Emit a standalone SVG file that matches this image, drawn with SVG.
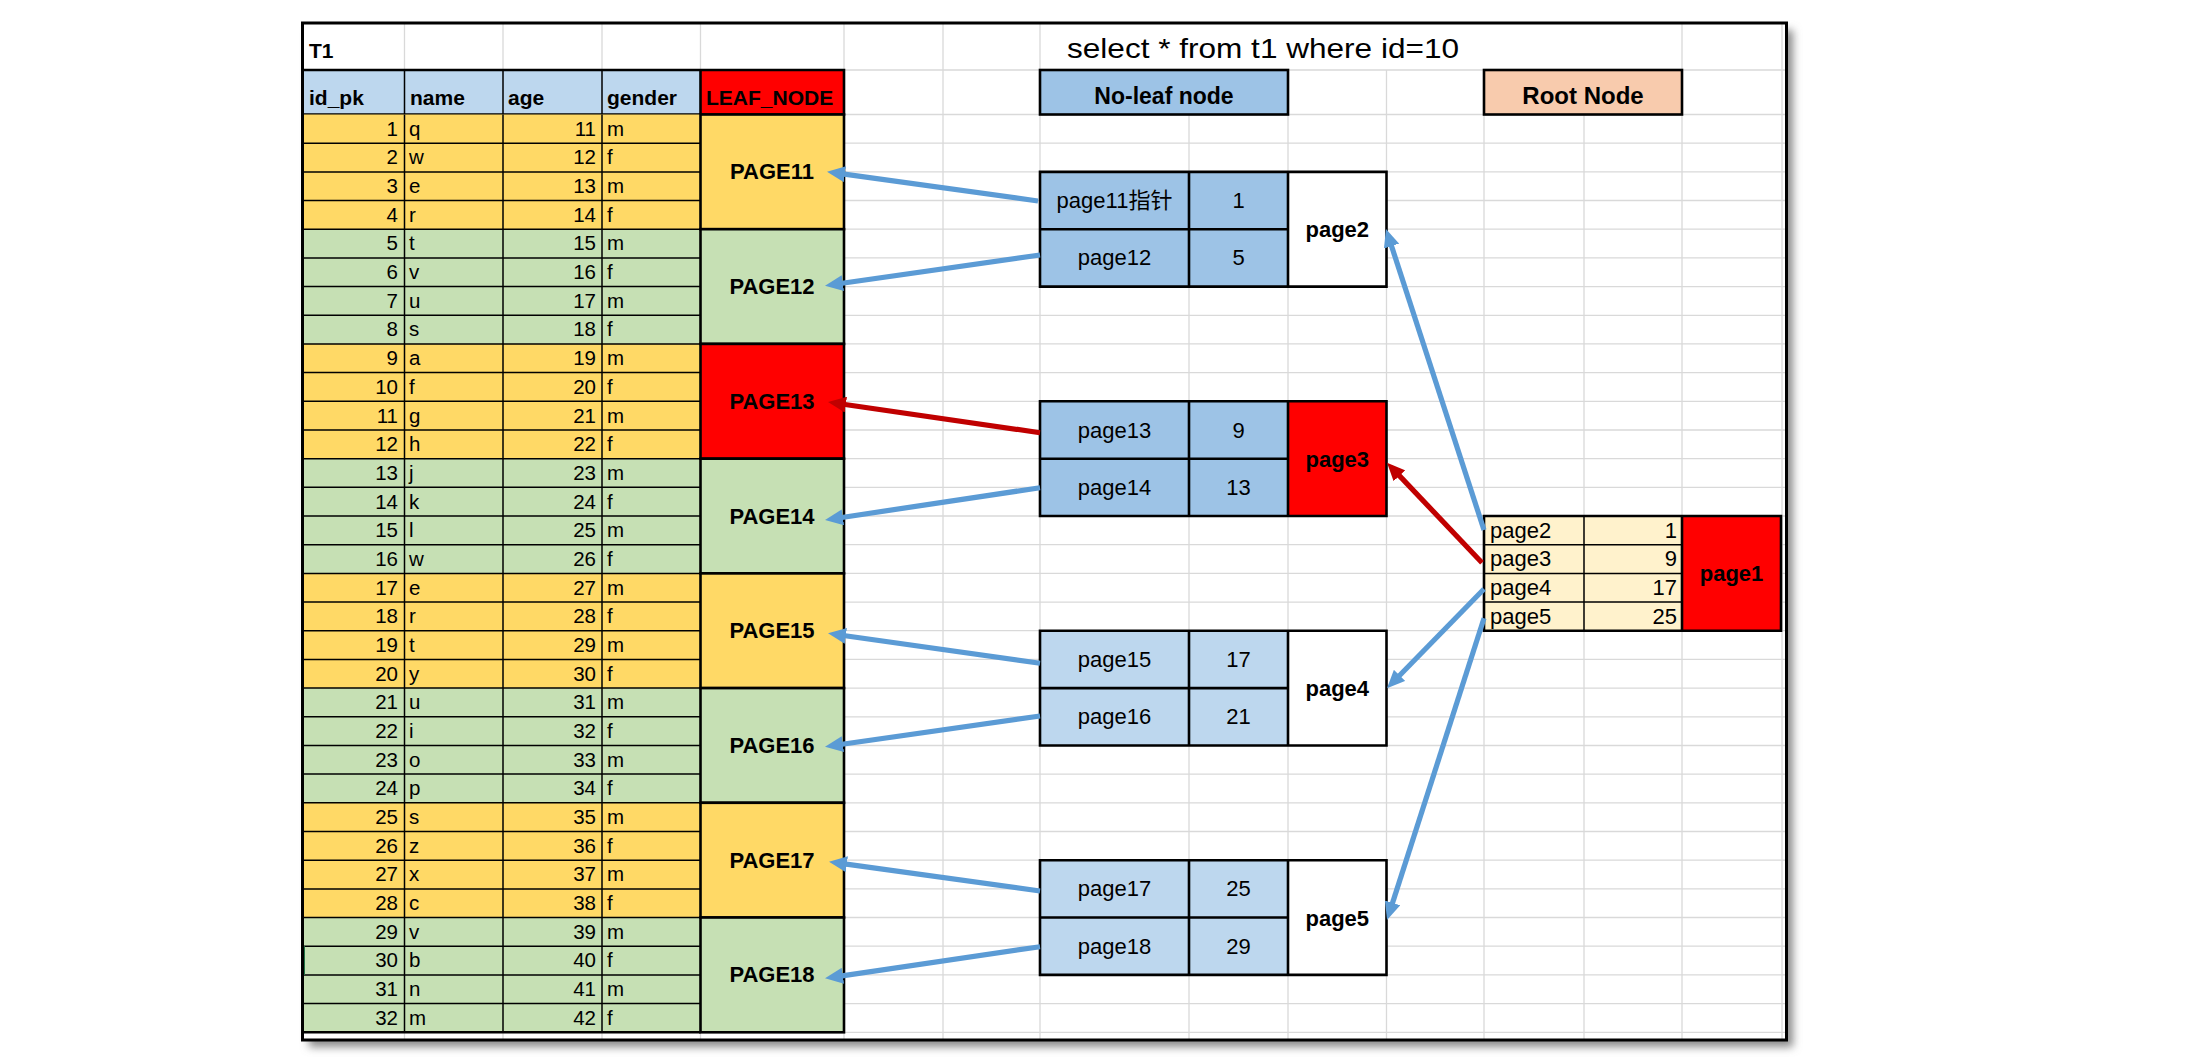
<svg xmlns="http://www.w3.org/2000/svg" width="2210" height="1063" viewBox="0 0 2210 1063">
<style>
.t{font-family:"Liberation Sans","Noto Sans CJK SC",sans-serif;fill:#000}
.d{font-size:20.5px}
.n{font-size:22px}
.h{font-size:21px;font-weight:bold}
.b{font-weight:bold}
.e{text-anchor:end}
.m{text-anchor:middle}
.grid{stroke:#D9D9D9;stroke-width:1.3;fill:none}
.thin{stroke:#000;stroke-width:1.5;fill:none}
.thick{stroke:#000;stroke-width:2.6;fill:none}
.blue{stroke:#5B9BD5;stroke-width:5.2;fill:none;marker-end:url(#ab)}
.red{stroke:#C00000;stroke-width:5.2;fill:none;marker-end:url(#ar)}
.yel{fill:#FFD966}
.grn{fill:#C6E0B4}
.rd{fill:#FF0000}
.lb{fill:#BDD7EE}
</style>
<defs>
<marker id="ab" viewBox="0 0 18 16" refX="6" refY="8" markerWidth="18" markerHeight="16" markerUnits="userSpaceOnUse" orient="auto"><path d="M0,0 L18,8 L0,16 z" fill="#5B9BD5"/></marker>
<marker id="ar" viewBox="0 0 18 16" refX="6" refY="8" markerWidth="18" markerHeight="16" markerUnits="userSpaceOnUse" orient="auto"><path d="M0,0 L18,8 L0,16 z" fill="#C00000"/></marker>
<filter id="sh" x="-5%" y="-5%" width="110%" height="110%"><feGaussianBlur stdDeviation="4"/></filter>
</defs>
<rect x="0" y="0" width="2210" height="1063" fill="#fff"/>
<rect x="309" y="30" width="1484" height="1017" fill="#8a8a8a" filter="url(#sh)"/>
<rect x="302.5" y="23" width="1484" height="1017" fill="#fff"/>
<g id="grid" class="grid">
<path d="M303,70H1786M303,114.5H1786M303,143.2H1786M303,171.9H1786M303,200.5H1786M303,229.2H1786M303,257.9H1786M303,286.6H1786M303,315.3H1786M303,343.9H1786M303,372.6H1786M303,401.3H1786M303,430H1786M303,458.7H1786M303,487.3H1786M303,516H1786M303,544.7H1786M303,573.4H1786M303,602.1H1786M303,630.7H1786M303,659.4H1786M303,688.1H1786M303,716.8H1786M303,745.5H1786M303,774.1H1786M303,802.8H1786M303,831.5H1786M303,860.2H1786M303,888.9H1786M303,917.5H1786M303,946.2H1786M303,974.9H1786M303,1003.6H1786M303,1032.3H1786"/>
<path d="M404.5,23V1040M503,23V1040M602,23V1040M700.5,23V1040M844,23V1040M943,23V1040M1040,23V1040M1189,70V1040M1288,70V1040M1386.5,70V1040M1484,70V1040M1584,70V1040M1682,23V1040M1782,23V1040"/>
</g>
<g id="title">
<text class="t b" x="309" y="58" font-size="21">T1</text>
<text class="t m" x="1263" y="58" font-size="28" textLength="392" lengthAdjust="spacingAndGlyphs">select * from t1 where id=10</text>
</g>
<g id="header">
<rect x="303" y="70" width="397.5" height="44.5" class="lb"/>
<rect x="700.5" y="70" width="143.5" height="44.5" class="rd"/>
<path class="thin" d="M404.5,70V114.5M503,70V114.5M602,70V114.5"/>
<path class="thick" d="M303,70H844V114.5H303M700.5,70V114.5"/>
<text class="t h" x="309" y="104.5">id_pk</text>
<text class="t h" x="410" y="104.5">name</text>
<text class="t h" x="508" y="104.5">age</text>
<text class="t h" x="607" y="104.5">gender</text>
<text class="t h" x="706" y="104.5" font-size="20">LEAF_NODE</text>
</g>
<g id="table-t1">
<rect x="303" y="114.5" width="397.5" height="114.7" class="yel"/>
<rect x="303" y="229.2" width="397.5" height="114.7" class="grn"/>
<rect x="303" y="343.9" width="397.5" height="114.8" class="yel"/>
<rect x="303" y="458.7" width="397.5" height="114.7" class="grn"/>
<rect x="303" y="573.4" width="397.5" height="114.7" class="yel"/>
<rect x="303" y="688.1" width="397.5" height="114.7" class="grn"/>
<rect x="303" y="802.8" width="397.5" height="114.7" class="yel"/>
<rect x="303" y="917.5" width="397.5" height="114.8" class="grn"/>
<path class="thin" d="M303,143.2H700.5M303,171.9H700.5M303,200.5H700.5M303,229.2H700.5M303,257.9H700.5M303,286.6H700.5M303,315.3H700.5M303,343.9H700.5M303,372.6H700.5M303,401.3H700.5M303,430H700.5M303,458.7H700.5M303,487.3H700.5M303,516H700.5M303,544.7H700.5M303,573.4H700.5M303,602.1H700.5M303,630.7H700.5M303,659.4H700.5M303,688.1H700.5M303,716.8H700.5M303,745.5H700.5M303,774.1H700.5M303,802.8H700.5M303,831.5H700.5M303,860.2H700.5M303,888.9H700.5M303,917.5H700.5M303,946.2H700.5M303,974.9H700.5M303,1003.6H700.5M404.5,114.5V1032.3M503,114.5V1032.3M602,114.5V1032.3"/>
<path class="thick" d="M303,1032.3H700.5"/>
<rect x="302" y="946.2" width="3" height="28.7" fill="#217346"/>
<g class="t d">
<text class="e" x="398" y="135.7">1</text><text x="409" y="135.7">q</text><text class="e" x="596" y="135.7">11</text><text x="607" y="135.7">m</text>
<text class="e" x="398" y="164.4">2</text><text x="409" y="164.4">w</text><text class="e" x="596" y="164.4">12</text><text x="607" y="164.4">f</text>
<text class="e" x="398" y="193">3</text><text x="409" y="193">e</text><text class="e" x="596" y="193">13</text><text x="607" y="193">m</text>
<text class="e" x="398" y="221.7">4</text><text x="409" y="221.7">r</text><text class="e" x="596" y="221.7">14</text><text x="607" y="221.7">f</text>
<text class="e" x="398" y="250.4">5</text><text x="409" y="250.4">t</text><text class="e" x="596" y="250.4">15</text><text x="607" y="250.4">m</text>
<text class="e" x="398" y="279.1">6</text><text x="409" y="279.1">v</text><text class="e" x="596" y="279.1">16</text><text x="607" y="279.1">f</text>
<text class="e" x="398" y="307.8">7</text><text x="409" y="307.8">u</text><text class="e" x="596" y="307.8">17</text><text x="607" y="307.8">m</text>
<text class="e" x="398" y="336.4">8</text><text x="409" y="336.4">s</text><text class="e" x="596" y="336.4">18</text><text x="607" y="336.4">f</text>
<text class="e" x="398" y="365.1">9</text><text x="409" y="365.1">a</text><text class="e" x="596" y="365.1">19</text><text x="607" y="365.1">m</text>
<text class="e" x="398" y="393.8">10</text><text x="409" y="393.8">f</text><text class="e" x="596" y="393.8">20</text><text x="607" y="393.8">f</text>
<text class="e" x="398" y="422.5">11</text><text x="409" y="422.5">g</text><text class="e" x="596" y="422.5">21</text><text x="607" y="422.5">m</text>
<text class="e" x="398" y="451.2">12</text><text x="409" y="451.2">h</text><text class="e" x="596" y="451.2">22</text><text x="607" y="451.2">f</text>
<text class="e" x="398" y="479.8">13</text><text x="409" y="479.8">j</text><text class="e" x="596" y="479.8">23</text><text x="607" y="479.8">m</text>
<text class="e" x="398" y="508.5">14</text><text x="409" y="508.5">k</text><text class="e" x="596" y="508.5">24</text><text x="607" y="508.5">f</text>
<text class="e" x="398" y="537.2">15</text><text x="409" y="537.2">l</text><text class="e" x="596" y="537.2">25</text><text x="607" y="537.2">m</text>
<text class="e" x="398" y="565.9">16</text><text x="409" y="565.9">w</text><text class="e" x="596" y="565.9">26</text><text x="607" y="565.9">f</text>
<text class="e" x="398" y="594.6">17</text><text x="409" y="594.6">e</text><text class="e" x="596" y="594.6">27</text><text x="607" y="594.6">m</text>
<text class="e" x="398" y="623.2">18</text><text x="409" y="623.2">r</text><text class="e" x="596" y="623.2">28</text><text x="607" y="623.2">f</text>
<text class="e" x="398" y="651.9">19</text><text x="409" y="651.9">t</text><text class="e" x="596" y="651.9">29</text><text x="607" y="651.9">m</text>
<text class="e" x="398" y="680.6">20</text><text x="409" y="680.6">y</text><text class="e" x="596" y="680.6">30</text><text x="607" y="680.6">f</text>
<text class="e" x="398" y="709.3">21</text><text x="409" y="709.3">u</text><text class="e" x="596" y="709.3">31</text><text x="607" y="709.3">m</text>
<text class="e" x="398" y="738">22</text><text x="409" y="738">i</text><text class="e" x="596" y="738">32</text><text x="607" y="738">f</text>
<text class="e" x="398" y="766.6">23</text><text x="409" y="766.6">o</text><text class="e" x="596" y="766.6">33</text><text x="607" y="766.6">m</text>
<text class="e" x="398" y="795.3">24</text><text x="409" y="795.3">p</text><text class="e" x="596" y="795.3">34</text><text x="607" y="795.3">f</text>
<text class="e" x="398" y="824">25</text><text x="409" y="824">s</text><text class="e" x="596" y="824">35</text><text x="607" y="824">m</text>
<text class="e" x="398" y="852.7">26</text><text x="409" y="852.7">z</text><text class="e" x="596" y="852.7">36</text><text x="607" y="852.7">f</text>
<text class="e" x="398" y="881.4">27</text><text x="409" y="881.4">x</text><text class="e" x="596" y="881.4">37</text><text x="607" y="881.4">m</text>
<text class="e" x="398" y="910">28</text><text x="409" y="910">c</text><text class="e" x="596" y="910">38</text><text x="607" y="910">f</text>
<text class="e" x="398" y="938.7">29</text><text x="409" y="938.7">v</text><text class="e" x="596" y="938.7">39</text><text x="607" y="938.7">m</text>
<text class="e" x="398" y="967.4">30</text><text x="409" y="967.4">b</text><text class="e" x="596" y="967.4">40</text><text x="607" y="967.4">f</text>
<text class="e" x="398" y="996.1">31</text><text x="409" y="996.1">n</text><text class="e" x="596" y="996.1">41</text><text x="607" y="996.1">m</text>
<text class="e" x="398" y="1024.8">32</text><text x="409" y="1024.8">m</text><text class="e" x="596" y="1024.8">42</text><text x="607" y="1024.8">f</text>
</g>
</g>
<g id="leaf-page11"><rect x="700.5" y="114.5" width="143.5" height="114.7" class="thick" style="fill:#FFD966"/><text class="t b m" x="772" y="179.4" font-size="22">PAGE11</text></g>
<g id="leaf-page12"><rect x="700.5" y="229.2" width="143.5" height="114.7" class="thick" style="fill:#C6E0B4"/><text class="t b m" x="772" y="294.1" font-size="22">PAGE12</text></g>
<g id="leaf-page13"><rect x="700.5" y="343.9" width="143.5" height="114.8" class="thick" style="fill:#FF0000"/><text class="t b m" x="772" y="408.8" font-size="22">PAGE13</text></g>
<g id="leaf-page14"><rect x="700.5" y="458.7" width="143.5" height="114.7" class="thick" style="fill:#C6E0B4"/><text class="t b m" x="772" y="523.5" font-size="22">PAGE14</text></g>
<g id="leaf-page15"><rect x="700.5" y="573.4" width="143.5" height="114.7" class="thick" style="fill:#FFD966"/><text class="t b m" x="772" y="638.2" font-size="22">PAGE15</text></g>
<g id="leaf-page16"><rect x="700.5" y="688.1" width="143.5" height="114.7" class="thick" style="fill:#C6E0B4"/><text class="t b m" x="772" y="753" font-size="22">PAGE16</text></g>
<g id="leaf-page17"><rect x="700.5" y="802.8" width="143.5" height="114.7" class="thick" style="fill:#FFD966"/><text class="t b m" x="772" y="867.7" font-size="22">PAGE17</text></g>
<g id="leaf-page18"><rect x="700.5" y="917.5" width="143.5" height="114.8" class="thick" style="fill:#C6E0B4"/><text class="t b m" x="772" y="982.4" font-size="22">PAGE18</text></g>
<g id="label-noleaf"><rect x="1040" y="70" width="248" height="44.5" class="thick" style="fill:#9DC3E6"/><text class="t b m" x="1164" y="104" font-size="23">No-leaf node</text></g>
<g id="label-root"><rect x="1484" y="70" width="198" height="44.5" class="thick" style="fill:#F8CBAD"/><text class="t b m" x="1583" y="104" font-size="24">Root Node</text></g>
<g id="node-page2">
<rect x="1040" y="171.9" width="248" height="114.7" style="fill:#9DC3E6"/>
<rect x="1288" y="171.9" width="98.5" height="114.7" fill="#fff"/>
<path class="thick" d="M1040,171.9H1386.5V286.6H1040ZM1040,229.2H1288M1189,171.9V286.6M1288,171.9V286.6"/>
<text class="t n m" x="1114.5" y="208">page11指针</text><text class="t n m" x="1238.5" y="208">1</text>
<text class="t n m" x="1114.5" y="265.4">page12</text><text class="t n m" x="1238.5" y="265.4">5</text>
<text class="t n b m" x="1337.3" y="237.2">page2</text>
</g>
<g id="node-page3">
<rect x="1040" y="401.3" width="248" height="114.7" style="fill:#9DC3E6"/>
<rect x="1288" y="401.3" width="98.5" height="114.7" fill="#FF0000"/>
<path class="thick" d="M1040,401.3H1386.5V516H1040ZM1040,458.7H1288M1189,401.3V516M1288,401.3V516"/>
<text class="t n m" x="1114.5" y="437.5">page13</text><text class="t n m" x="1238.5" y="437.5">9</text>
<text class="t n m" x="1114.5" y="494.8">page14</text><text class="t n m" x="1238.5" y="494.8">13</text>
<text class="t n b m" x="1337.3" y="466.7">page3</text>
</g>
<g id="node-page4">
<rect x="1040" y="630.7" width="248" height="114.8" style="fill:#BDD7EE"/>
<rect x="1288" y="630.7" width="98.5" height="114.8" fill="#fff"/>
<path class="thick" d="M1040,630.7H1386.5V745.5H1040ZM1040,688.1H1288M1189,630.7V745.5M1288,630.7V745.5"/>
<text class="t n m" x="1114.5" y="666.9">page15</text><text class="t n m" x="1238.5" y="666.9">17</text>
<text class="t n m" x="1114.5" y="724.3">page16</text><text class="t n m" x="1238.5" y="724.3">21</text>
<text class="t n b m" x="1337.3" y="696.1">page4</text>
</g>
<g id="node-page5">
<rect x="1040" y="860.2" width="248" height="114.7" style="fill:#BDD7EE"/>
<rect x="1288" y="860.2" width="98.5" height="114.7" fill="#fff"/>
<path class="thick" d="M1040,860.2H1386.5V974.9H1040ZM1040,917.5H1288M1189,860.2V974.9M1288,860.2V974.9"/>
<text class="t n m" x="1114.5" y="896.4">page17</text><text class="t n m" x="1238.5" y="896.4">25</text>
<text class="t n m" x="1114.5" y="953.7">page18</text><text class="t n m" x="1238.5" y="953.7">29</text>
<text class="t n b m" x="1337.3" y="925.5">page5</text>
</g>
<g id="node-page1">
<rect x="1484" y="516" width="198" height="114.7" fill="#FFF2CC"/>
<rect x="1682" y="516" width="99" height="114.7" fill="#FF0000"/>
<path class="thin" d="M1484,544.7H1682M1484,573.4H1682M1484,602.1H1682M1584,516V630.7"/>
<path class="thick" d="M1484,516H1781V630.7H1484ZM1682,516V630.7"/>
<text class="t n" x="1490" y="537.7">page2</text><text class="t n e" x="1677" y="537.7">1</text>
<text class="t n" x="1490" y="566.4">page3</text><text class="t n e" x="1677" y="566.4">9</text>
<text class="t n" x="1490" y="595.1">page4</text><text class="t n e" x="1677" y="595.1">17</text>
<text class="t n" x="1490" y="623.7">page5</text><text class="t n e" x="1677" y="623.7">25</text>
<text class="t n b m" x="1731.5" y="581.4">page1</text>
</g>
<g id="connectors">
<path class="blue" d="M1038,201L838.9,173.4"/>
<path class="blue" d="M1040,255L836.9,284"/>
<path class="red" d="M1040,432.7L839.9,403.7"/>
<path class="blue" d="M1040,487.7L836.9,518.2"/>
<path class="blue" d="M1040,663.3L839.9,635"/>
<path class="blue" d="M1040,716L836.9,745"/>
<path class="blue" d="M1040,891L840.9,863.4"/>
<path class="blue" d="M1040,946.7L836.9,976.6"/>
<path class="blue" d="M1484,530L1389.7,240.4"/>
<path class="red" d="M1482,562.7L1395.3,471.4"/>
<path class="blue" d="M1484,589L1395.4,679.7"/>
<path class="blue" d="M1484,618.3L1390.7,908.6"/>
</g>
<rect x="302.5" y="23" width="1484" height="1017" fill="none" stroke="#000" stroke-width="3"/>
</svg>
